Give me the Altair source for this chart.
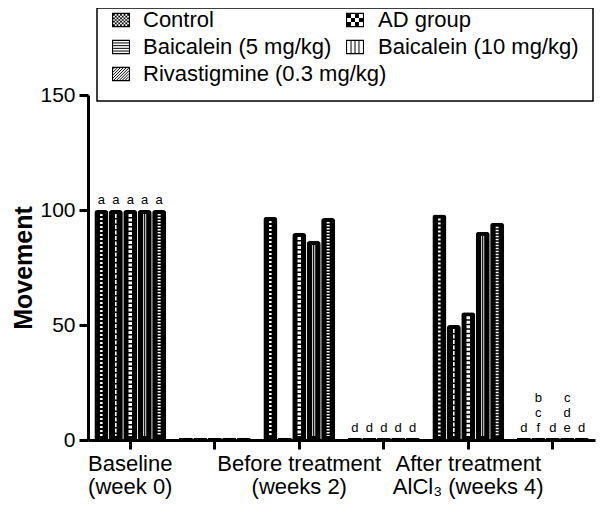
import altair as alt
import pandas as pd

FONT = "Liberation Sans"

groups = ["Baseline\n(week 0)", " ", "Before treatment\n(weeks 2)", "  ",
          "After treatment\nAlCl\u2083 (weeks 4)", "   "]
series = ["Control", "AD group", "Baicalein (5 mg/kg)", "Baicalein (10 mg/kg)",
          "Rivastigmine (0.3 mg/kg)"]

control = [100, 1, 97, 1, 98, 1]
ad_group = [100, 1, 1, 1, 50, 1]
baicalein5 = [100, 1, 90, 1, 55.5, 1]
baicalein10 = [100, 1, 86.5, 1, 90.5, 1]
rivastigmine = [100, 1, 96.5, 1, 94.5, 1]

letters_control = ["a", "", "", "d", "", "d"]
letters_ad = ["a", "", "", "d", "", "b\nc\nf"]
letters_b5 = ["a", "", "", "d", "", "d"]
letters_b10 = ["a", "", "", "d", "", "c\nd\ne"]
letters_riva = ["a", "", "", "d", "", "d"]

values = [control, ad_group, baicalein5, baicalein10, rivastigmine]
letters = [letters_control, letters_ad, letters_b5, letters_b10, letters_riva]

rows = []
letter_rows = []
for s, vals, lets in zip(series, values, letters):
    for g, v, l in zip(groups, vals, lets):
        rows.append({"group": g, "series": s, "value": v, "zero": 0})
        if l:
            for k, ch in enumerate(reversed(l.split("\n"))):
                letter_rows.append({"group": g, "series": s, "value": v, "ch": ch, "k": k})
df = pd.DataFrame(rows)
df_letters = pd.DataFrame(letter_rows)

x_enc = alt.X("group:N", sort=groups, title=None,
              scale=alt.Scale(paddingInner=0.15, paddingOuter=0.075),
              axis=alt.Axis(labelExpr="split(datum.label, '\\n')", labelAngle=0,
                            labelFont=FONT, labelFontSize=22, labelLineHeight=23,
                            labelColor="black", labelPadding=4,
                            tickSize=9, tickWidth=3, tickColor="black",
                            domainWidth=3, domainColor="black", grid=False))
xo_enc = alt.XOffset("series:N", sort=series,
                     scale=alt.Scale(paddingInner=0.03, paddingOuter=0))
y_enc = alt.Y("value:Q", scale=alt.Scale(domain=[0, 150], nice=False),
              axis=alt.Axis(values=[0, 50, 100, 150], title="Movement",
                            titleFont=FONT, titleFontSize=25, titleFontWeight="bold",
                            titleColor="black", titlePadding=3,
                            labelFont=FONT, labelFontSize=21, labelColor="black",
                            labelPadding=4, tickSize=9, tickWidth=3, tickColor="black",
                            domainWidth=3, domainColor="black", grid=False))

base = alt.Chart(df).encode(x=x_enc, xOffset=xo_enc, y=y_enc)

bars = base.mark_bar(color="black", cornerRadiusTopLeft=3, cornerRadiusTopRight=3)

# pattern strips inside bars (approximating the hatch fills)
pattern_specs = [
    ("Control", "white", 2.5, [2, 2]),
    ("AD group", "white", 1.6, [4, 1.5]),
    ("Baicalein (5 mg/kg)", "white", 3.5, [3, 1.5]),
    ("Baicalein (10 mg/kg)", "white", 3, None),
    ("Baicalein (10 mg/kg)", "black", 1.2, None),
    ("Rivastigmine (0.3 mg/kg)", "white", 3, [1.5, 1.5]),
]
pattern_layers = []
for s, col, w, dash in pattern_specs:
    kw = dict(color=col, strokeWidth=w, yOffset=4, y2Offset=-4)
    if dash is not None:
        kw["strokeDash"] = dash
    pattern_layers.append(
        base.transform_filter(alt.datum.series == s)
        .transform_filter(alt.datum.value > 5)
        .mark_rule(**kw)
        .encode(y2="zero:Q")
    )

letter_base = alt.Chart(df_letters).encode(x=x_enc, xOffset=xo_enc, y=y_enc)
letter_layers = []
for k in range(3):
    letter_layers.append(
        letter_base.transform_filter(alt.datum.k == k).mark_text(
            font=FONT, fontSize=13, baseline="bottom", dy=-3 - 15 * k, color="black"
        ).encode(text="ch:N")
    )

# ---------- custom legend ----------
def rect_cw(x0, y0, x1, y1):
    return f"M{x0:.3f},{y0:.3f}H{x1:.3f}V{y1:.3f}H{x0:.3f}Z"

def rect_ccw(x0, y0, x1, y1):
    return f"M{x0:.3f},{y0:.3f}V{y1:.3f}H{x1:.3f}V{y0:.3f}Z"

HX, HY = 0.88, 0.68
frame = rect_cw(-1, -0.8, 1, 0.8) + rect_ccw(-HX, -HY, HX, HY)

def checker(nc, nr):
    p = ""
    w = 2 * HX / nc
    h = 2 * HY / nr
    for i in range(nc):
        for j in range(nr):
            if (i + j) % 2 == 0:
                p += rect_cw(-HX + i * w, -HY + j * h, -HX + (i + 1) * w, -HY + (j + 1) * h)
    return p

def hlines(ys):
    return "".join(f"M{-HX},{y}H{HX}" for y in ys)

def vlines(xs):
    return "".join(f"M{x},{-HY}V{HY}" for x in xs)

def diag(step):
    p = ""
    c = -HX - HY + step / 2
    while c < HX + HY:
        y1 = max(-HY, c - HX)
        y2 = min(HY, c + HX)
        if y2 > y1:
            p += f"M{c - y1:.3f},{y1:.3f}L{c - y2:.3f},{y2:.3f}"
        c += step
    return p

fill_paths = [frame + checker(9, 7), frame + checker(4, 3), frame, frame, frame]
line_paths = [None, None, hlines([-0.45, -0.15, 0.15, 0.45]),
              vlines([-0.44, 0, 0.44]), diag(0.32)]

legend_cols = [0, 1, 0, 1, 0]
legend_rows = [0, 0, 1, 1, 2]
col_symbol_x = [33, 267]
col_text_x = [55, 290]
row_y = [-75, -48, -21]

one = pd.DataFrame({"k": [0]})
legend_layers = [
    alt.Chart(one).mark_rect(fill="white", stroke="black", strokeWidth=1.5).encode(
        x=alt.value(9), x2=alt.value(505), y=alt.value(-87), y2=alt.value(6))
]
for i, s in enumerate(series):
    sx = col_symbol_x[legend_cols[i]]
    tx = col_text_x[legend_cols[i]]
    sy = row_y[legend_rows[i]]
    legend_layers.append(
        alt.Chart(one).mark_point(shape=fill_paths[i], filled=True, color="black",
                                  size=324, opacity=1, strokeWidth=0)
        .encode(x=alt.value(sx), y=alt.value(sy)))
    if line_paths[i]:
        legend_layers.append(
            alt.Chart(one).mark_point(shape=line_paths[i], filled=False, color="black",
                                      size=324, opacity=1, strokeWidth=1)
            .encode(x=alt.value(sx), y=alt.value(sy)))
    legend_layers.append(
        alt.Chart(one).mark_text(text=s, font=FONT, fontSize=22, align="left",
                                 baseline="middle", color="black")
        .encode(x=alt.value(tx), y=alt.value(sy)))

chart = alt.layer(bars, *pattern_layers, *letter_layers, *legend_layers).properties(
    width=507, height=345,
    padding={"left": 80, "top": 87, "right": 3, "bottom": 62},
    autosize=alt.AutoSizeParams(type="none"),
).configure_view(stroke=None)

chart.save("out.html", embed_options={"renderer": "svg", "actions": False})
